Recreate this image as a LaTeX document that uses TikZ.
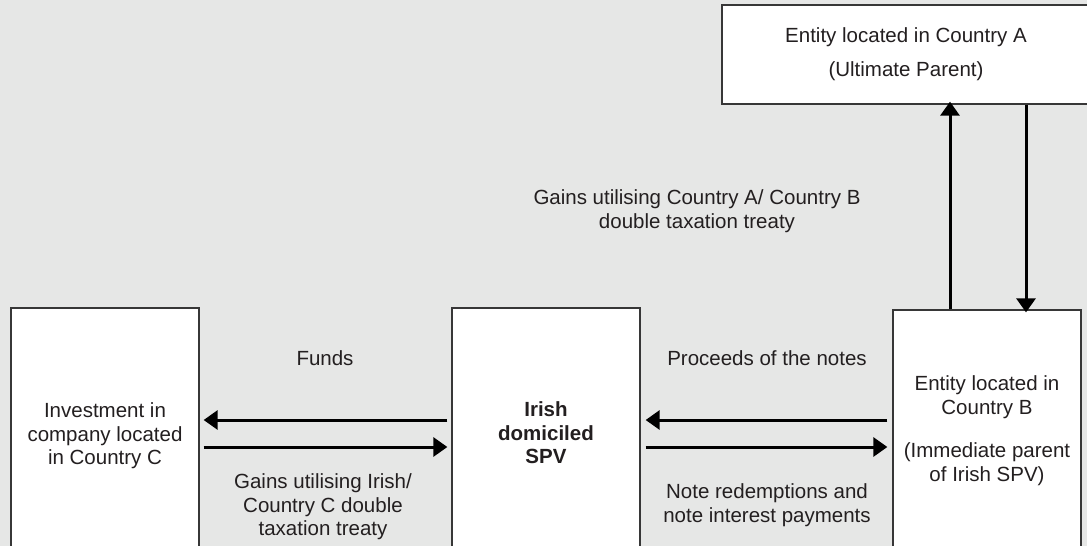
\documentclass[tikz,border=0pt]{standalone}
\usepackage{fontspec}
\setmainfont{Liberation Sans}
\usetikzlibrary{arrows.meta}
\definecolor{bggray}{RGB}{230,231,230}
\definecolor{boxline}{RGB}{55,55,55}
\definecolor{ink}{RGB}{35,31,32}
\begin{document}
\begin{tikzpicture}[x=1pt,y=-1pt,
  every node/.style={text=ink, font=\fontsize{20.5}{23.5}\selectfont},
  entitybox/.style={draw=boxline, line width=1.3pt, fill=white, rectangle, inner sep=0pt},
  flowtext/.style={align=center, inner sep=0pt},
  flowarrow/.style={line width=3pt, draw=black, -{Triangle[length=14pt,width=19pt]}}]
  \useasboundingbox (0,0) rectangle (1087,546);
  \clip (0,0) rectangle (1087,546);
  \fill[bggray] (0,0) rectangle (1087,546);

  % entity boxes (lower edges run past the frame)
  \node[entitybox, minimum width=188pt, minimum height=292pt] (inv) at (105,454) {};
  \node[entitybox, minimum width=188pt, minimum height=292pt] (spv) at (546,454) {};
  \node[entitybox, minimum width=188pt, minimum height=290pt] (entB) at (987,455) {};
  \node[entitybox, minimum width=378pt, minimum height=99pt] (entA) at (911,54.5) {};

  % box texts
  \node[flowtext] (invtxt) at (105,436) {Investment in\\company located\\in Country C};
  \node[flowtext, font=\fontsize{20.5}{23.5}\selectfont\bfseries] (spvtxt) at (546,433) {Irish\\domiciled\\SPV};
  \node[flowtext] (Btxt1) at (987,397) {Entity located in\\Country B};
  \node[flowtext] (Btxt2) at (987,464) {(Immediate parent\\of Irish SPV)};
  \node[flowtext] (Atxt1) at (906,37) {Entity located in Country A};
  \node[flowtext] (Atxt2) at (906,71) {(Ultimate Parent)};

  % arrow levels
  \coordinate (upper) at (0,420);
  \coordinate (lower) at (0,447);
  \coordinate (upx) at (950,0);
  \coordinate (downx) at (1026,0);

  % horizontal flows
  \draw[flowarrow] ([xshift=-4pt]spv.west |- upper) -- ([xshift=4pt]inv.east |- upper);
  \draw[flowarrow] ([xshift=4pt]inv.east |- lower) -- ([xshift=-4pt]spv.west |- lower);
  \draw[flowarrow] ([xshift=-5pt]entB.west |- upper) -- ([xshift=5pt]spv.east |- upper);
  \draw[flowarrow] ([xshift=5pt]spv.east |- lower) -- ([xshift=-5pt]entB.west |- lower);

  % vertical flows
  \draw[flowarrow] (upx |- entB.north) -- ([yshift=3pt]upx |- entA.south);
  \draw[flowarrow] (downx |- entA.south) -- ([yshift=-3pt]downx |- entB.north);

  % flow labels
  \node[flowtext] (funds) at (325,358) {Funds};
  \node[flowtext] (gainsC) at (323,507) {Gains utilising Irish/\\Country C double\\taxation treaty};
  \node[flowtext] (proceeds) at (767,358) {Proceeds of the notes};
  \node[flowtext] (notes) at (767,505) {Note redemptions and\\note interest payments};
  \node[flowtext] (gainsAB) at (697,211) {Gains utilising Country A/ Country B\\double taxation treaty};
\end{tikzpicture}
\end{document}
